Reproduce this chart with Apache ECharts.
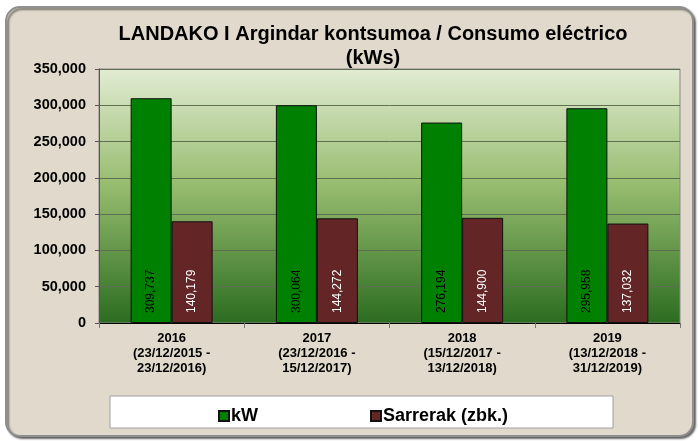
<!DOCTYPE html>
<html lang="es">
<head>
  <meta charset="utf-8">
</head>
<body style="margin: 0">
  <div id="container" style="width:698px;height:441px"></div>

  <script type="text/javascript" src="https://fastly.jsdelivr.net/npm/echarts@6/dist/echarts.min.js"></script>

  <script type="text/javascript">
    var categories = [
      '2016\n(23/12/2015 -\n23/12/2016)',
      '2017\n(23/12/2016 -\n15/12/2017)',
      '2018\n(15/12/2017 -\n13/12/2018)',
      '2019\n(13/12/2018 -\n31/12/2019)'
    ];
    var kwValues = [309737, 300064, 276194, 295958];
    var sarrerakValues = [140179, 144272, 144900, 137032];

    var dom = document.getElementById('container');
    var myChart = echarts.init(dom, null, { renderer: 'canvas' });

    var fmt = function (v) {
      return String(v).replace(/\B(?=(\d{3})+(?!\d))/g, ',');
    };

    var option = {
      backgroundColor: '#ffffff',
      animation: false,
      textStyle: { fontFamily: 'Liberation Sans, Arial, sans-serif' },
      graphic: [
        {
          type: 'rect',
          z: -10,
          shape: { x: 6, y: 7, width: 687, height: 429, r: 14 },
          style: {
            fill: '#e1dacc',
            stroke: '#8f8f8f',
            lineWidth: 2,
            shadowColor: 'rgba(0,0,0,0.5)',
            shadowOffsetX: 2,
            shadowOffsetY: 2,
            shadowBlur: 2
          }
        },
        {
          type: 'rect',
          z: -5,
          shape: { x: 110, y: 396, width: 503, height: 32 },
          style: { fill: '#ffffff', stroke: '#a0a0a0', lineWidth: 1 }
        }
      ],
      title: {
        text: 'LANDAKO I Argindar kontsumoa / Consumo eléctrico\n(kWs)',
        left: 368,
        textAlign: 'center',
        top: 17,
        textStyle: {
          fontSize: 20,
          fontWeight: 'bold',
          color: '#000',
          lineHeight: 24,
          fontFamily: 'Liberation Sans, Arial, sans-serif'
        }
      },
      legend: {
        left: 213,
        top: 402,
        itemGap: 112,
        itemWidth: 10,
        itemHeight: 10,
        icon: 'rect',
        textStyle: { fontSize: 18, fontWeight: 'bold', color: '#000', padding: [0, 0, 0, -3] },
        data: ['kW', 'Sarrerak (zbk.)']
      },
      grid: {
        left: 99,
        right: 18,
        top: 69,
        bottom: 118,
        show: true,
        borderWidth: 1,
        borderColor: '#888',
        backgroundColor: new echarts.graphic.LinearGradient(0, 0, 0, 1, [
          { offset: 0, color: '#e2ecd3' },
          { offset: 0.45, color: '#98bd70' },
          { offset: 1, color: '#2b6c20' }
        ])
      },
      xAxis: {
        type: 'category',
        data: categories,
        axisLine: { lineStyle: { color: '#000', width: 1 } },
        axisTick: { show: true, length: 5, lineStyle: { color: '#777' } },
        axisLabel: {
          fontSize: 13,
          fontWeight: 'bold',
          color: '#000',
          lineHeight: 15,
          margin: 8
        }
      },
      yAxis: {
        type: 'value',
        min: 0,
        max: 350000,
        interval: 50000,
        axisLine: { show: true, lineStyle: { color: '#555' } },
        axisTick: { show: true, length: 4, lineStyle: { color: '#555' } },
        splitLine: { lineStyle: { color: '#5f6f52', width: 1 } },
        axisLabel: {
          fontSize: 14.5,
          fontWeight: 'bold',
          color: '#000',
          margin: 13,
          formatter: fmt
        }
      },
      series: [
        {
          name: 'kW',
          type: 'bar',
          data: kwValues,
          barWidth: 41,
          barGap: '0%',
          itemStyle: { color: '#008000', borderColor: '#111', borderWidth: 1 },
          label: {
            show: true,
            position: 'insideBottom',
            rotate: 90,
            align: 'left',
            verticalAlign: 'middle',
            distance: 10,
            fontSize: 12,
            color: '#000',
            formatter: function (p) { return fmt(p.value); }
          }
        },
        {
          name: 'Sarrerak (zbk.)',
          type: 'bar',
          data: sarrerakValues,
          barWidth: 41,
          itemStyle: { color: '#632526', borderColor: '#111', borderWidth: 1 },
          label: {
            show: true,
            position: 'insideBottom',
            rotate: 90,
            align: 'left',
            verticalAlign: 'middle',
            distance: 10,
            fontSize: 12,
            color: '#fff',
            formatter: function (p) { return fmt(p.value); }
          }
        }
      ]
    };

    myChart.setOption(option);
    window.addEventListener('resize', myChart.resize);
  </script>
</body>
</html>
